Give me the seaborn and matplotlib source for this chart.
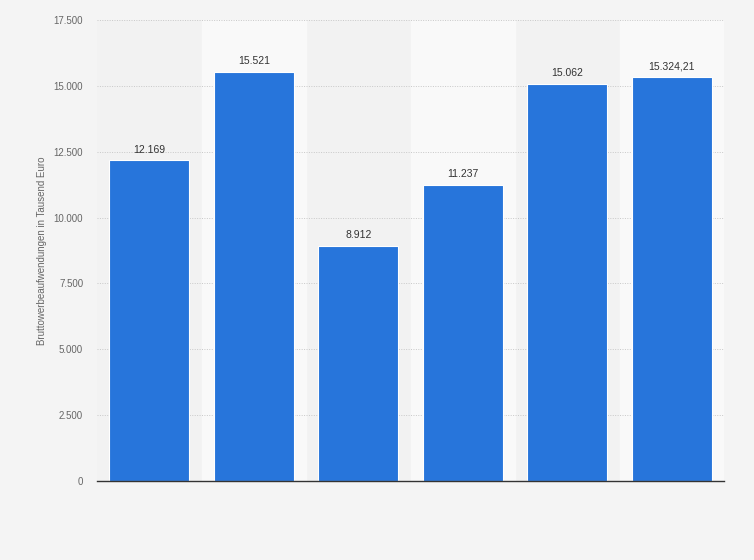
import numpy as np
import pandas as pd
import matplotlib
matplotlib.use("Agg")
import matplotlib.pyplot as plt
import seaborn as sns
from matplotlib.ticker import FuncFormatter

# data
categories = ["A", "B", "C", "D", "E", "F"]
values = [12169, 15521, 8912, 11237, 15062, 15324.21]
labels = ["12.169", "15.521", "8.912", "11.237", "15.062", "15.324,21"]
yticks = [0, 2500, 5000, 7500, 10000, 12500, 15000, 17500]

df = pd.DataFrame({"cat": categories, "val": values})

sns.set_style("white")
plt.rcParams['font.family'] = ['Liberation Sans', 'DejaVu Sans']

fig = plt.figure(figsize=(7.54, 5.6), dpi=100, facecolor="#f4f4f4")
ax = fig.add_axes([97 / 754, 1 - 481 / 560, 627 / 754, 461 / 560])
ax.set_facecolor("#f2f2f2")

# alternating column bands
for i in range(len(categories)):
    if i % 2 == 1:
        ax.axvspan(i - 0.5, i + 0.5, color="#f9f9f9", zorder=0)

sns.barplot(data=df, x="cat", y="val", color="#2775db", saturation=1,
            width=0.77, edgecolor="white", linewidth=0.8, ax=ax, zorder=3)

for i, (v, t) in enumerate(zip(values, labels)):
    ax.text(i, v + 220, t, ha="center", va="bottom", fontsize=7.5,
            color="#333333", zorder=4)

ax.set_xlim(-0.5, len(categories) - 0.5)
ax.set_ylim(0, 17500)
ax.set_yticks(yticks)
ax.yaxis.set_major_formatter(FuncFormatter(lambda v, p: f"{int(v):,}".replace(",", ".")))
ax.grid(axis="y", color="#c8c8c8", linestyle=(0, (1, 1.5)), linewidth=0.7, zorder=1)
ax.set_axisbelow(True)
ax.tick_params(axis="y", length=0, labelsize=7, labelcolor="#666666", pad=10)
ax.set_xticks([])
ax.set_xlabel("")
ax.set_ylabel("Bruttowerbeaufwendungen in Tausend Euro", fontsize=7,
              color="#666666", labelpad=5)

for s in ["top", "right", "left"]:
    ax.spines[s].set_visible(False)
ax.spines["bottom"].set_color("#333333")
ax.spines["bottom"].set_linewidth(1.0)
ax.spines["bottom"].set_zorder(5)

fig.savefig("out.png", dpi=100, facecolor=fig.get_facecolor())
